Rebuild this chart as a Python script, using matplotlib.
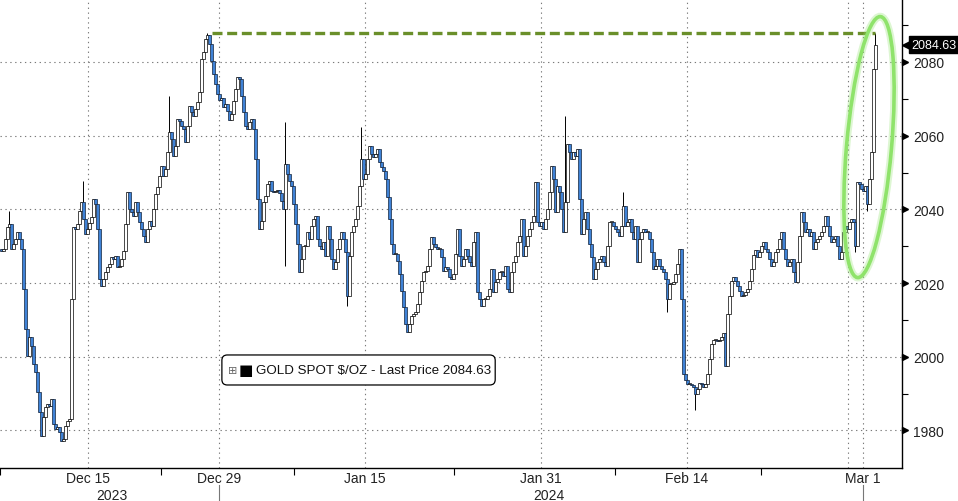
import numpy as np
import matplotlib.pyplot as plt
from matplotlib.patches import Ellipse, FancyBboxPatch
from matplotlib.transforms import Affine2D, blended_transform_factory, offset_copy

plt.rcParams['font.family'] = ['Liberation Sans', 'DejaVu Sans']

# Gold spot closes, one per bar
prices = [
    2029.3, 2028.7, 2029.3, 2032.0, 2035.2, 2036.0, 2029.3, 2030.6, 2032.0, 2033.9,
    2032.0, 2029.3, 2018.4, 2007.5, 2000.2, 2005.4, 2002.9, 1998.0, 1995.9, 1990.5,
    1985.0, 1978.5, 1983.7, 1986.4, 1987.2, 1986.7, 1988.6, 1981.8, 1980.4, 1981.0,
    1979.6, 1977.2, 1977.7, 1981.2, 1982.6, 1983.1, 2015.7, 2035.2, 2034.7, 2036.0,
    2039.6, 2042.0, 2037.4, 2033.3, 2034.7, 2036.3, 2037.9, 2042.8, 2041.5, 2034.7,
    2021.1, 2019.2, 2021.1, 2023.0, 2024.4, 2025.2, 2027.1, 2026.5, 2027.4, 2024.4,
    2024.6, 2026.5, 2028.7, 2036.0, 2044.7, 2040.1, 2039.3, 2038.2, 2042.0, 2039.3,
    2036.6, 2034.7, 2032.8, 2031.2, 2034.7, 2036.9, 2035.5, 2040.1, 2044.2, 2046.1,
    2049.1, 2051.8, 2049.1, 2051.0, 2055.6, 2061.0, 2059.1, 2054.5, 2057.2, 2064.5,
    2064.0, 2062.6, 2061.8, 2058.3, 2062.6, 2068.1, 2066.4, 2065.3, 2067.2, 2069.1,
    2071.9, 2080.8, 2082.7, 2086.2, 2087.3, 2084.9, 2080.3, 2076.7, 2074.0, 2071.3,
    2069.7, 2070.2, 2067.8, 2068.6, 2066.7, 2064.3, 2065.9, 2069.4, 2072.7, 2075.9,
    2075.4, 2070.8, 2066.4, 2062.6, 2061.8, 2063.7, 2064.5, 2061.8, 2053.7, 2042.8,
    2034.7, 2036.9, 2042.0, 2043.6, 2046.9, 2047.7, 2045.0, 2044.7, 2045.0, 2045.3,
    2044.5, 2042.3, 2040.1, 2052.3, 2049.6, 2047.7, 2046.4, 2041.5, 2036.0, 2030.6,
    2023.0, 2026.5, 2030.1, 2030.1, 2033.9, 2032.0, 2035.5, 2037.4, 2038.2, 2032.0,
    2030.1, 2029.3, 2031.2, 2027.4, 2035.5, 2032.0, 2026.5, 2023.8, 2025.7, 2029.3,
    2032.0, 2033.9, 2032.0, 2028.4, 2016.5, 2027.4, 2033.9, 2035.5, 2037.4, 2040.9,
    2046.4, 2053.7, 2048.3, 2049.6, 2053.7, 2057.2, 2055.0, 2054.2, 2055.0, 2056.4,
    2052.9, 2051.5, 2050.4, 2048.3, 2043.4, 2037.4, 2030.6, 2027.9, 2027.9, 2026.0,
    2022.5, 2017.9, 2013.5, 2008.9, 2006.7, 2008.9, 2011.1, 2011.6, 2012.2, 2014.3,
    2017.6, 2020.6, 2023.0, 2023.3, 2024.6, 2029.3, 2032.5, 2030.6, 2029.8, 2029.3,
    2029.3, 2027.1, 2023.3, 2024.4, 2023.8, 2021.7, 2021.1, 2022.5, 2027.9, 2034.7,
    2027.4, 2024.6, 2026.5, 2029.3, 2027.4, 2025.7, 2024.6, 2031.2, 2033.9, 2017.6,
    2015.7, 2013.8, 2015.7, 2015.7, 2016.5, 2018.4, 2023.8, 2017.6, 2020.3, 2021.1,
    2023.0, 2023.0, 2021.9, 2024.6, 2018.4, 2017.6, 2023.0, 2025.7, 2027.4, 2031.2,
    2032.8, 2037.4, 2027.4, 2030.1, 2032.8, 2034.7, 2036.6, 2038.2, 2047.4, 2036.6,
    2035.5, 2036.6, 2034.7, 2037.4, 2040.1, 2044.7, 2051.8, 2048.3, 2039.3, 2046.4,
    2044.7, 2040.1, 2033.9, 2042.0, 2057.8, 2055.6, 2053.7, 2055.6, 2054.5, 2056.4,
    2042.8, 2033.3, 2037.4, 2039.3, 2034.7, 2030.6, 2027.1, 2021.1, 2023.8, 2025.7,
    2026.5, 2027.4, 2025.7, 2024.6, 2030.1, 2036.6, 2036.6, 2035.5, 2034.7, 2033.9,
    2032.8, 2035.5, 2040.9, 2035.5, 2036.6, 2037.4, 2033.9, 2032.0, 2035.5, 2025.7,
    2032.0, 2033.9, 2034.7, 2033.9, 2033.9, 2032.0, 2028.4, 2023.8, 2024.6, 2026.5,
    2024.6, 2023.8, 2023.0, 2021.1, 2015.7, 2019.8, 2019.8, 2020.3, 2022.5, 2025.2,
    2029.3, 2015.7, 1995.3, 1993.7, 1992.6, 1992.6, 1992.4, 1991.8, 1989.9, 1991.3,
    1992.9, 1992.6, 1991.8, 1992.6, 1995.3, 1999.4, 2003.5, 2004.6, 2004.6, 2004.3,
    2004.6, 2005.4, 2006.5, 1997.5, 2011.6, 2016.5, 2020.6, 2021.7, 2020.6, 2019.2,
    2017.9, 2016.5, 2016.8, 2017.6, 2018.4, 2020.6, 2023.8, 2027.6, 2029.0, 2027.1,
    2028.4, 2030.1, 2031.2, 2029.3, 2028.4, 2026.5, 2024.6, 2025.7, 2028.4, 2029.3,
    2032.0, 2033.9, 2029.3, 2026.5, 2024.6, 2025.7, 2026.5, 2023.0, 2020.3, 2025.7,
    2032.8, 2039.3, 2036.6, 2033.9, 2034.7, 2032.8, 2033.9, 2029.3, 2031.2, 2032.0,
    2032.8, 2033.9, 2035.5, 2038.2, 2035.5, 2032.8, 2031.2, 2032.0, 2032.8, 2030.1,
    2026.5, 2028.4, 2033.9, 2035.5, 2034.7, 2036.6, 2037.4, 2036.6, 2030.1, 2047.4,
    2046.9, 2045.5, 2045.0, 2046.4, 2041.5, 2048.3, 2055.6, 2078.1, 2084.63,
]

# longer wicks seen on individual bars (bar number = index of its close)
high_wick_idx = [5, 42, 85, 104, 143, 181, 283, 312, 438]
high_wick_val = [2039.6, 2047.7, 2070.8, 2088.0, 2063.7, 2062.3, 2065.3, 2044.7, 2088.0]
low_wick_idx = [18, 143, 174, 334, 348, 428, 434]
low_wick_val = [2020.6, 2024.6, 2013.8, 2012.2, 1985.6, 2028.4, 2039.6]

last_price = 2084.63

tick_pos = [44.5, 110, 183, 271, 344, 432]
tick_labels = ['Dec 15', 'Dec 29', 'Jan 15', 'Jan 31', 'Feb 14', 'Mar 1']
extra_grid = [424.5]
minor_pos = [0.5, 81, 147.5, 227.5, 308, 381]
year_pos = [56.5, 275]
year_labels = ['2023', '2024']
year_breaks = [110, 432]

# build OHLC bars: each bar opens at the previous close
p = np.array(prices)
opens = p[:-1]
closes = p[1:]
highs = np.maximum(opens, closes)
lows = np.minimum(opens, closes)
hi_i = np.array(high_wick_idx) - 1
lo_i = np.array(low_wick_idx) - 1
highs[hi_i] = np.maximum(highs[hi_i], high_wick_val)
lows[lo_i] = np.minimum(lows[lo_i], low_wick_val)
x = np.arange(1, len(p))

fig = plt.figure(figsize=(9.58, 5.02), dpi=100)
ax = fig.add_axes([0, 33 / 502, 902 / 958, 469 / 502])
ax.set_xlim(0.5, 451.5)
ax.set_ylim(1969.8, 2097.1)

# grid
grid_kw = dict(color='#7a7a7a', lw=0.8, dashes=(1.2, 3.2), zorder=0)
for y in range(1980, 2081, 20):
    ax.axhline(y, **grid_kw)
for gx in tick_pos + extra_grid:
    ax.axvline(gx, **grid_kw)

# candles, drawn one by one so later bars overlap earlier ones
ax.vlines(x, lows, highs, color='black', lw=0.7, zorder=2)
body_bottom = np.minimum(opens, closes)
body_h = np.maximum(np.abs(closes - opens), 0.3)
face = np.where(closes >= opens, 'white', '#3f82d6')
edge = np.where(closes >= opens, 'black', '#14243c')
ax.bar(x, body_h, bottom=body_bottom, width=1.5, color=face, edgecolor=edge,
       linewidth=0.5, zorder=3)

# previous high line
peak_k = int(np.argmax(highs[:-1]))
ax.hlines(highs[peak_k], x[peak_k] + 2.5, x[-1], colors='#6a8f2a', lw=2.4,
          linestyles=(0, (3.0, 1.4)), zorder=4)

# spines
for side in ['left', 'top']:
    ax.spines[side].set_visible(False)
ax.spines['bottom'].set_linewidth(1.0)
ax.spines['right'].set_linewidth(1.0)

# y axis on the right
ax.yaxis.tick_right()
ax.set_yticks(range(1980, 2081, 20))
ax.set_yticks(range(1990, 2091, 20), minor=True)
ax.tick_params(axis='y', which='major', length=0, pad=8, labelsize=10, labelcolor='#222222')
ax.tick_params(axis='y', which='minor', length=4, width=0.8, direction='out', color='black')
ytrans = blended_transform_factory(ax.transAxes, ax.transData)
ax.plot([1.0] * 6, list(range(1980, 2081, 20)), ls='none', marker='>', ms=5, color='black',
        transform=offset_copy(ytrans, fig=fig, x=3, y=0, units='dots'), clip_on=False)

# x axis
ax.set_xticks(tick_pos)
ax.set_xticklabels(tick_labels)
ax.set_xticks(minor_pos, minor=True)
ax.tick_params(axis='x', which='major', length=0, pad=2.5, labelsize=10, labelcolor='#222222')
ax.tick_params(axis='x', which='minor', length=5, width=0.8, direction='out', color='black')
xtrans = ax.get_xaxis_transform()
for xp, lab in zip(year_pos, year_labels):
    ax.text(xp, -0.058, lab, transform=xtrans, ha='center', va='center',
            fontsize=10, color='#222222')
for xb in year_breaks:
    ax.plot([xb, xb], [-0.036, -0.075], transform=xtrans, color='#777777', lw=0.8,
            clip_on=False)

# last price tag
ax.plot([1.0], [last_price], ls='none', marker='<', ms=8, color='black',
        transform=offset_copy(ytrans, fig=fig, x=6, y=0, units='dots'), clip_on=False)
ax.annotate(f'{last_price:.2f}', xy=(1.0, last_price), xycoords=ytrans,
            xytext=(9, 0), textcoords='offset pixels', ha='left', va='center',
            fontsize=9, color='white', annotation_clip=False,
            bbox=dict(boxstyle='square,pad=0.2', fc='black', ec='black'))

# legend box
ax.add_patch(FancyBboxPatch((0.246, 0.177), 0.303, 0.064, transform=ax.transAxes,
                            boxstyle='round,pad=0,rounding_size=0.006', mutation_aspect=1.92,
                            fc='white', ec='black', lw=0.9, zorder=5))
ax.text(0.258, 0.209, '\u229e', transform=ax.transAxes, ha='center', va='center',
        fontsize=8, color='#666666', family='DejaVu Sans', zorder=6)
ax.text(0.272, 0.209, '\u25a0', transform=ax.transAxes, ha='center', va='center',
        fontsize=11, color='black', family='DejaVu Sans', zorder=6)
ax.text(0.284, 0.209, f'GOLD SPOT $/OZ - Last Price {last_price:.2f}', transform=ax.transAxes,
        ha='left', va='center', fontsize=9.6, color='#111111', zorder=6)

# highlight ellipse around the final surge
cx, cy = ax.transData.transform((435, 2056.9))
for lw, alpha in [(5.5, 0.3), (2.6, 1.0)]:
    ell = Ellipse((0, 0), 45, 262, angle=-5, fill=False, ec='#8fe36b', lw=lw, alpha=alpha,
                  transform=Affine2D().translate(cx, cy), clip_on=False, zorder=6)
    ax.add_patch(ell)

fig.savefig('out.png', dpi=100)
